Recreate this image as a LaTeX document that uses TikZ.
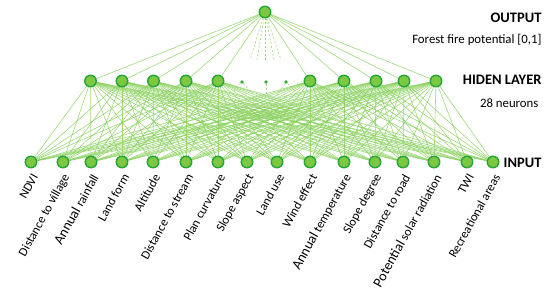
\documentclass[tikz,border=0pt]{standalone}
\usepackage{fontspec}
\setmainfont{Carlito}
\usepackage{tikz}
\usetikzlibrary{positioning, calc, backgrounds}
\definecolor{neurongreen}{RGB}{125, 200, 65}
\definecolor{rimgreen}{RGB}{35, 165, 55}
\definecolor{linkgreen}{RGB}{135, 208, 90}
\newcommand{\bigword}[1]{{\fontsize{14}{16}\selectfont #1}}

\begin{document}
\begin{tikzpicture}[
        x=1pt, y=-1pt,
        neuron/.style={
            circle, draw=rimgreen, fill=neurongreen, line width=1.4pt,
            minimum size=11.5pt, inner sep=0pt,
        },
        dotneuron/.style={circle, fill=rimgreen!80!neurongreen, minimum size=3.8pt, inner sep=0pt},
        link/.style={draw=linkgreen, line width=0.6pt, opacity=0.8},
        dashlink/.style={link, dashed, dash pattern=on 2pt off 2pt},
        inlabel/.style={rotate=61, anchor=east, inner sep=0pt, font=\fontsize{12.5}{14}\selectfont},
        layertitle/.style={anchor=east, font=\bfseries\fontsize{14.5}{16}\selectfont},
        layernote/.style={anchor=east, font=\fontsize{12.8}{15}\selectfont},
    ]
    \useasboundingbox (0,0) rectangle (550,294);

    % output layer
    \node[neuron] (out) at (265,12) {};

    % hidden layer
    \foreach \x [count=\i] in {90.5,122,153.5,186,218,310,344,376,404,436}
        \node[neuron] (h\i) at (\x,81) {};
    \foreach \x [count=\i] in {242,266,286}
        \node[dotneuron] (d\i) at (\x,82) {};

    % input layer
    \foreach \x/\t [count=\i] in {
        31/NDVI, 63/Distance to village, 91/\bigword{Annual} rainfall, 122/Land form,
        153/Altitude, 186/Distance to stream, 218/Plan curvature,
        247/Slope aspect, 277/Land use, 310/Wind effect,
        344/\bigword{Annual} temperature, 375/Slope degree, 403/Distance to road,
        434/\bigword{Potential} solar radiation, 467/TWI, 493/Recreational  areas}
    {
        \node[neuron] (in\i) at (\x,162) {};
        \node[inlabel] (lab\i) at ($(in\i)+(4,13)$) {\t};
    }

    % ends of the dashed hints
    \foreach \x [count=\i] in {250,257,265,274,281}
        \coordinate (up\i) at (\x,60);
    \coordinate (lo1) at (233,92);
    \coordinate (lo2) at (255,97);
    \coordinate (lo3) at (266,96);
    \coordinate (lo4) at (276,97);
    \coordinate (lo5) at (296,92);

    % connections
    \begin{scope}[on background layer]
        \foreach \i in {1,...,10} {
            \draw[link] (out) -- (h\i);
            \foreach \j in {1,...,16}
                \draw[link] (h\i) -- (in\j);
        }
        \foreach \i in {1,...,5}
            \draw[dashlink] (out) -- (up\i);
        \draw[dashlink] (d1) -- (lo1);
        \draw[dashlink] (d1) -- (lo2);
        \draw[dashlink] (d2) -- (lo3);
        \draw[dashlink] (d3) -- (lo4);
        \draw[dashlink] (d3) -- (lo5);
    \end{scope}

    % layer titles
    \node[layertitle] (outtitle) at (545,18) {OUTPUT};
    \node[layernote] (outnote) at (545,40) {Forest fire potential [0,1]};
    \node[layertitle] (hidtitle) at (545,80) {HIDEN LAYER};
    \node[layernote] (hidnote) at (542,103) {28 neurons};
    \node[layertitle] (intitle) at (545,163) {INPUT};
\end{tikzpicture}
\end{document}
